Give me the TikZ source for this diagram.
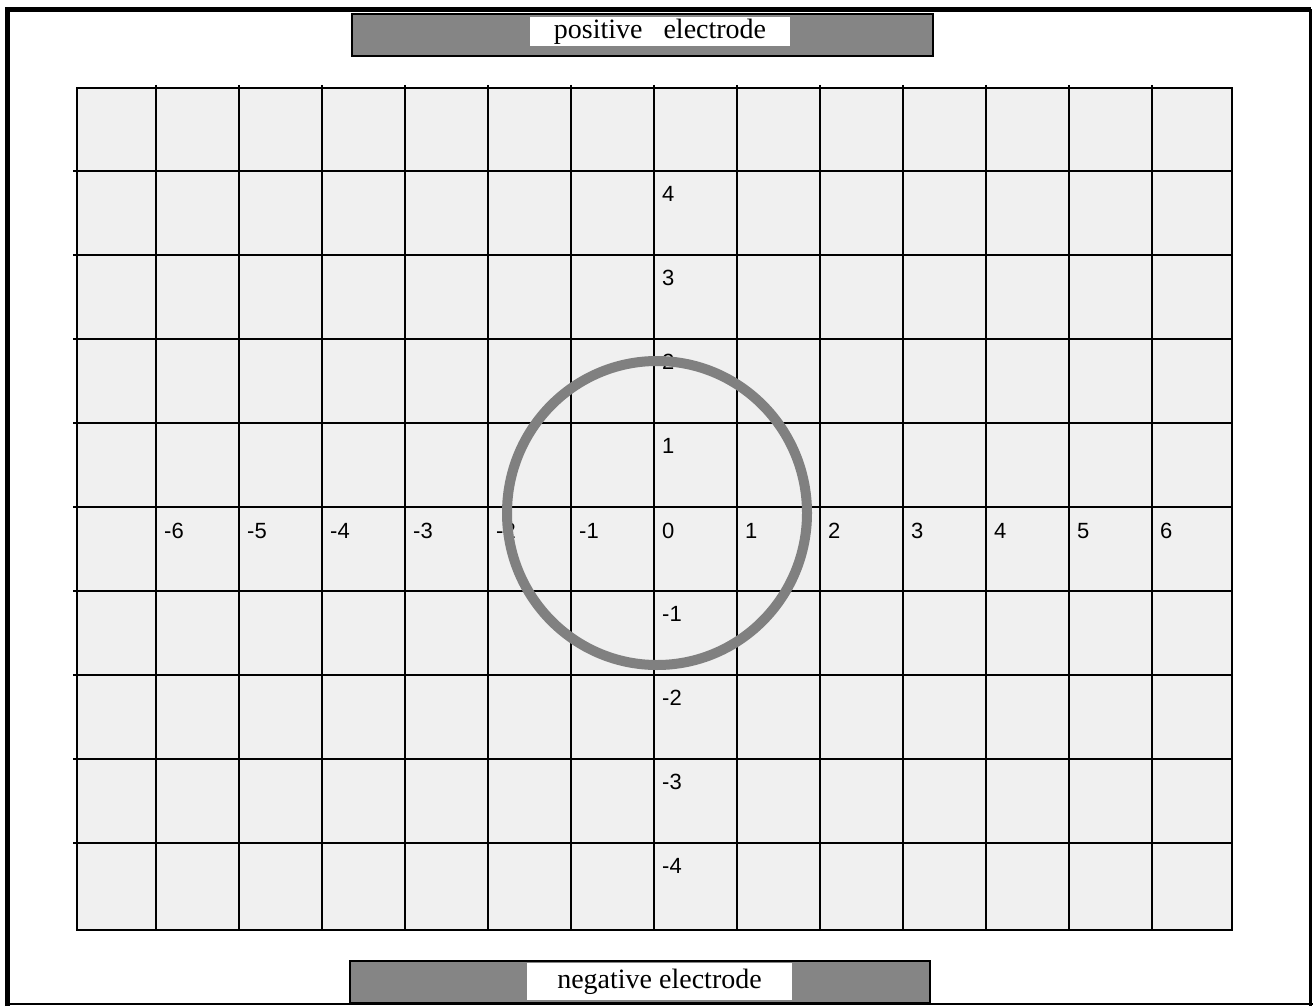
\documentclass[tikz,border=0pt]{standalone}
\usepackage{fontspec}
\setmainfont{Liberation Serif}
\newfontfamily\arialfont{Liberation Sans}
\definecolor{cellfill}{gray}{0.94}
\definecolor{electrodefill}{gray}{0.52}
\definecolor{ringgray}{gray}{0.5}
\begin{document}
\begin{tikzpicture}[x=1pt,y=-1pt,
  gridline/.style={black,line width=2.4pt},
  numlabel/.style={anchor=base west,inner sep=0pt,font=\arialfont\fontsize{22}{22}\selectfont},
  electrode/.style={draw=black,line width=2pt,fill=electrodefill},
  elabel/.style={fill=white,inner sep=0pt,font=\fontsize{28}{28}\selectfont}]
\useasboundingbox (0,0) rectangle (1313,1006);
% outer frame
\draw[line width=5pt] (7,1006) -- (7,9.5) -- (1311,9.5);
\draw[line width=3.5pt] (1310.5,9.5) -- (1310.5,1006);
\draw[line width=2pt] (7,1004) -- (1313,1004);
% grid
\fill[cellfill] (77,88) rectangle (1232,930);
\foreach \x in {156,239,...,1152} \draw[gridline] (\x,85) -- (\x,930);
\foreach \y in {171,255,...,843} \draw[gridline] (73,\y) -- (1232,\y);
\draw[line width=2.6pt] (77,88) rectangle (1232,930);
% horizontal axis labels
\foreach \v [count=\i from 0] in {-6,-5,-4,-3,-2,-1,0,1,2,3,4,5,6}
  \node[numlabel] (h\i) at ({156+83*\i+8},538) {\v};
% vertical axis labels
\foreach \v [count=\i from 0] in {4,3,2,1}
  \node[numlabel] (vp\i) at (662,{201+84*\i}) {\v};
\foreach \v [count=\i from 0] in {-1,-2,-3,-4}
  \node[numlabel] (vn\i) at (662,{621+84*\i}) {\v};
% ring
\draw[ringgray,line width=10pt] (657,513) ellipse [x radius=150, y radius=152];
% electrodes
\node[electrode,minimum width=581pt,minimum height=42pt,inner sep=0pt] (pos) at (642.5,35) {};
\node[elabel,minimum width=260pt,minimum height=29pt] (poslabel) at (660,31.5) {positive\hspace{0.75em}electrode};
\node[electrode,minimum width=580pt,minimum height=42pt,inner sep=0pt] (neg) at (640,982) {};
\node[elabel,minimum width=265pt,minimum height=37pt] (neglabel) at (659.5,981.5) {negative electrode};
\end{tikzpicture}
\end{document}
